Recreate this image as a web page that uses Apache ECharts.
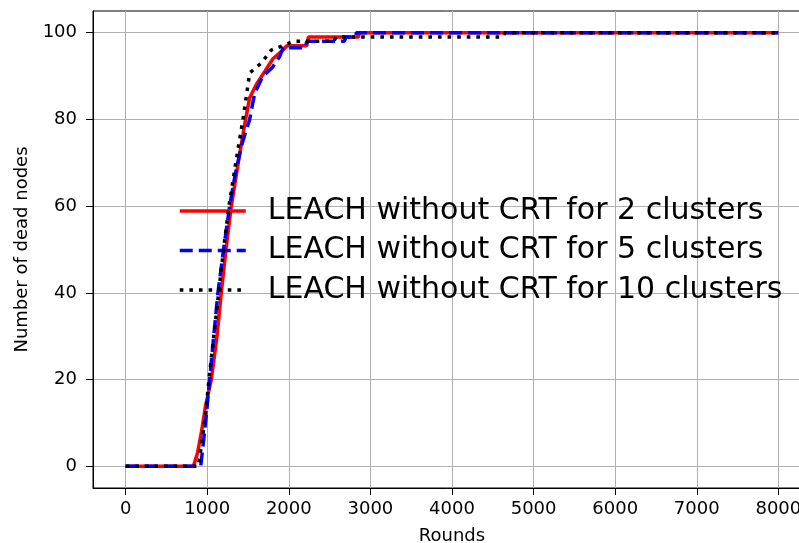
<!DOCTYPE html>
<html>
<head>
<meta charset="utf-8">
<script src="https://cdn.jsdelivr.net/npm/echarts@6/dist/echarts.min.js"></script>
<style>
html,body{margin:0;padding:0;background:#fff;}
#chart{width:799px;height:543px;}
</style>
</head>
<body>
<div id="chart"></div>
<script>
// ---- data ----
const seriesNames = [
  'LEACH without CRT for 2 clusters',
  'LEACH without CRT for 5 clusters',
  'LEACH without CRT for 10 clusters'
];
const xTicks = [0, 1000, 2000, 3000, 4000, 5000, 6000, 7000, 8000];
const yTicks = [0, 20, 40, 60, 80, 100];

const rounds2 = [0, 830, 880, 930, 980, 1050, 1120, 1172, 1230, 1295, 1380, 1470, 1520, 1600, 1703, 1805, 1928, 1977, 2220, 2240, 2850, 2870, 8000];
const dead2   = [0, 0, 3, 8, 14, 20, 30, 40, 50, 60, 70, 80, 85, 88, 91, 94, 96, 97, 97, 99, 99, 100, 100];

const rounds5 = [0, 920, 950, 990, 1029, 1080, 1131, 1200, 1275, 1340, 1420, 1520, 1581, 1683, 1800, 1887, 1930, 2200, 2220, 2680, 2700, 2810, 2830, 8000];
const dead5   = [0, 0, 5, 12, 20, 30, 40, 50, 60, 67, 74, 80, 86, 90, 92, 94.5, 96.5, 96.5, 98, 98, 99, 99, 100, 100];

const rounds10 = [0, 890, 930, 980, 1021, 1080, 1140, 1200, 1266, 1350, 1438, 1520, 1663, 1785, 1928, 2050, 2550, 2580, 4620, 4650, 8000];
const dead10   = [0, 0, 5, 12, 20, 30, 40, 50, 60, 70, 80, 90.7, 93, 96, 97, 98, 98, 99, 99, 100, 100];

const zip = (xs, ys) => xs.map((x, i) => [x, ys[i]]);

const FONT = 'DejaVu Sans';
const LW = 3.5;

const chart = echarts.init(document.getElementById('chart'), null, {renderer: 'canvas'});
chart.setOption({
  animation: false,
  backgroundColor: '#ffffff',
  grid: {
    left: 93, top: 11, width: 718, height: 477,
    outerBoundsMode: 'none', containLabel: false,
    show: true, borderColor: '#000', borderWidth: 1, backgroundColor: 'transparent'
  },
  legend: {
    orient: 'vertical',
    left: 178, top: 196, padding: 0,
    itemWidth: 66, itemHeight: 14, itemGap: 9.5,
    lineStyle: {width: LW},
    itemStyle: {opacity: 0},
    textStyle: {fontFamily: FONT, fontSize: 30, color: '#000', lineHeight: 30, padding: [0, 0, 0, 17]},
    data: seriesNames
  },
  xAxis: {
    type: 'value', min: -400, max: 8400,
    name: 'Rounds', nameLocation: 'middle', nameGap: 39,
    nameTextStyle: {fontFamily: FONT, fontSize: 18, color: '#000'},
    axisLine: {show: true, onZero: false, lineStyle: {color: '#000', width: 1}},
    axisTick: {show: true, inside: false, length: 7, lineStyle: {color: '#000', width: 1}, customValues: xTicks},
    axisLabel: {customValues: xTicks, fontFamily: FONT, fontSize: 18, color: '#000', margin: 12,
                formatter: v => String(v)},
    splitLine: {show: true, lineStyle: {color: '#b0b0b0', width: 1}}
  },
  yAxis: {
    type: 'value', min: -5, max: 105,
    name: 'Number of dead nodes', nameLocation: 'middle', nameGap: 62, nameRotate: 90,
    nameTextStyle: {fontFamily: FONT, fontSize: 18, color: '#000'},
    axisLine: {show: true, onZero: false, lineStyle: {color: '#000', width: 1}},
    axisTick: {show: true, inside: false, length: 7, lineStyle: {color: '#000', width: 1}, customValues: yTicks},
    axisLabel: {customValues: yTicks, fontFamily: FONT, fontSize: 18, color: '#000', margin: 16,
                formatter: v => String(v)},
    splitLine: {show: true, lineStyle: {color: '#b0b0b0', width: 1}}
  },
  series: [
    {
      name: seriesNames[0], type: 'line', data: zip(rounds2, dead2),
      symbol: 'none', lineStyle: {color: '#ff0000', width: LW, type: 'solid'},
      itemStyle: {color: '#ff0000'}, z: 2
    },
    {
      name: seriesNames[1], type: 'line', data: zip(rounds5, dead5),
      symbol: 'none', lineStyle: {color: '#0000ff', width: LW, type: [13, 6], cap: 'butt'},
      itemStyle: {color: '#0000ff'}, z: 3
    },
    {
      name: seriesNames[2], type: 'line', data: zip(rounds10, dead10),
      symbol: 'none', lineStyle: {color: '#000000', width: LW, type: [3.6, 6], cap: 'butt'},
      itemStyle: {color: '#000000'}, z: 4
    }
  ]
});
</script>
</body>
</html>
